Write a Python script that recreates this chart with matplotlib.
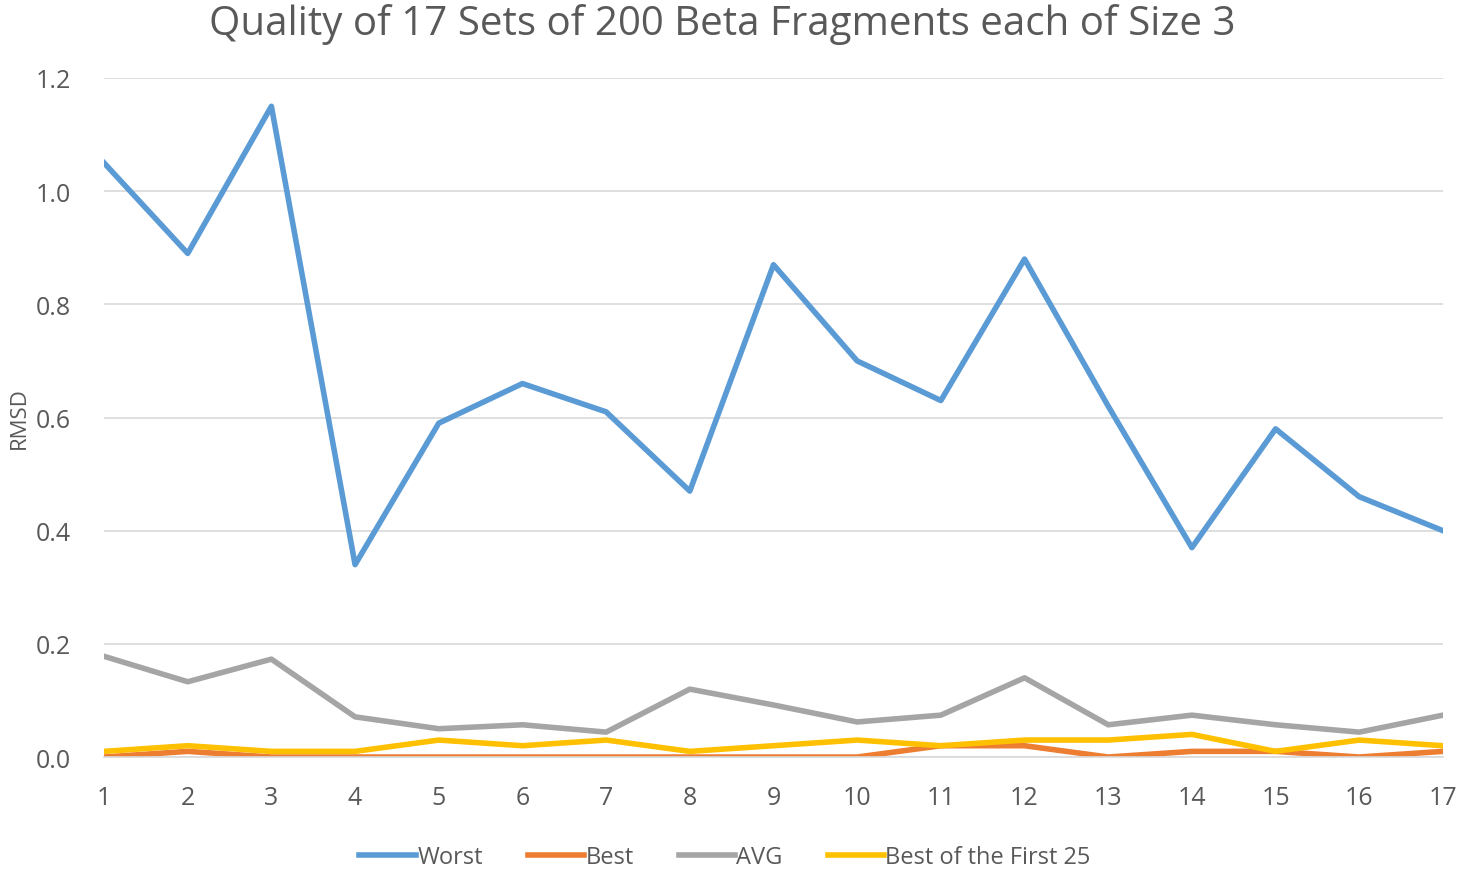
import matplotlib
matplotlib.use("Agg")
import matplotlib.pyplot as plt

sets = list(range(1, 18))
worst = [1.05, 0.89, 1.15, 0.34, 0.59, 0.66, 0.61, 0.47, 0.87, 0.70, 0.63, 0.88, 0.62, 0.37, 0.58, 0.46, 0.40]
best = [0.00, 0.01, 0.00, 0.00, 0.00, 0.00, 0.00, 0.00, 0.00, 0.00, 0.02, 0.02, 0.00, 0.01, 0.01, 0.00, 0.01]
avg = [0.178, 0.133, 0.173, 0.071, 0.050, 0.057, 0.044, 0.120, 0.092, 0.062, 0.074, 0.140, 0.057, 0.074, 0.057, 0.044, 0.074]
first25 = [0.01, 0.02, 0.01, 0.01, 0.03, 0.02, 0.03, 0.01, 0.02, 0.03, 0.02, 0.03, 0.03, 0.04, 0.01, 0.03, 0.02]

plt.rcParams['font.family'] = ['Open Sans', 'DejaVu Sans']
txt = "#595959"

fig = plt.figure(figsize=(14.59, 8.70), dpi=100)
ax = fig.add_axes([0.0713, 0.1287, 0.9177, 0.7805])

lw = 4
ax.plot(sets, worst, color="#5B9BD5", lw=lw, label="Worst")
ax.plot(sets, best, color="#ED7D31", lw=lw, label="Best")
ax.plot(sets, avg, color="#A5A5A5", lw=lw, label="AVG")
ax.plot(sets, first25, color="#FFC000", lw=lw, label="Best of the First 25")

ax.set_xlim(1, 17)
ax.set_ylim(0, 1.2)
yt = [0, 0.2, 0.4, 0.6, 0.8, 1.0, 1.2]
ax.set_yticks(yt)
ax.set_yticklabels([f"{v:.1f}" for v in yt])
ax.set_xticks(sets)
ax.grid(axis="y", color="#D9D9D9", lw=1.2)
ax.set_axisbelow(True)
for s in ["top", "right", "left"]:
    ax.spines[s].set_visible(False)
ax.spines["bottom"].set_color("#D9D9D9")
ax.spines["bottom"].set_linewidth(1.2)
ax.tick_params(axis="both", length=0, labelsize=18, colors=txt)
ax.tick_params(axis="x", pad=20)
ax.tick_params(axis="y", pad=24)

ax.set_ylabel("RMSD", fontsize=16, color=txt, labelpad=4)
fig.text(0.495, 0.995, "Quality of 17 Sets of 200 Beta Fragments each of Size 3",
         ha="center", va="top", fontsize=29, color=txt)

fig.legend(loc="lower center", bbox_to_anchor=(0.497, -0.022), ncol=4, frameon=False,
           fontsize=17, handlelength=2.4, handletextpad=0.05, columnspacing=1.9,
           borderpad=0.3, labelcolor=txt)

fig.savefig("out.png", dpi=100)
